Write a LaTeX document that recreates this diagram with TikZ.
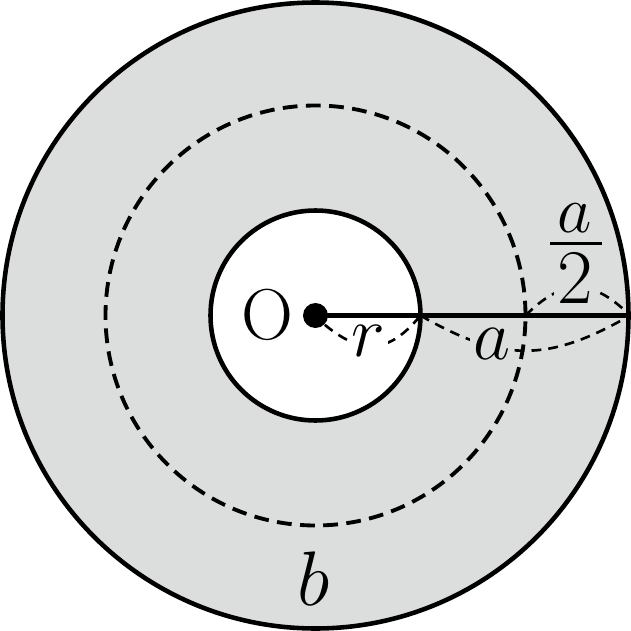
\RequirePackage{fix-cm}
\documentclass[tikz,border=0pt]{standalone}
\usepackage{amsmath}
\usepackage{tikz}

\definecolor{ringgray}{RGB}{220,221,221}

\begin{document}
\begin{tikzpicture}[
	lbl/.style={font=\fontsize{20.5}{24}\selectfont, inner sep=1pt},
	numlbl/.style={font=\fontsize{19}{23}\selectfont, inner sep=0.5pt},
	biglbl/.style={font=\fontsize{22}{26}\selectfont, inner sep=1pt},
	brace/.style={dash pattern=on 2.8pt off 2pt, line width=0.75pt}
	]

	\useasboundingbox (0,0) rectangle (6.31,6.31);

	\fill[ringgray, draw=black, line width=1.3pt] (3.155,3.155) circle (3.13);
	\draw[dash pattern=on 4.2pt off 2.4pt, line width=1.1pt] (3.155,3.155) circle (2.1);
	\draw[fill=white, line width=1.3pt] (3.155,3.155) circle (1.05);

	\node[shape=circle,fill=black,inner sep=0pt,minimum size=0.25cm] (o) at (3.155,3.155) {};
	\coordinate (rin)  at (4.205,3.155);
	\coordinate (rmid) at (5.255,3.155);
	\coordinate (rout) at (6.30,3.155);

	\draw[line width=1.3pt] (o.center) -- (rout);

	\path[brace] (o)    edge[bend right=45, looseness=1.3]  (rin);
	\path[brace] (rin)  edge[bend right=30, looseness=1.15] (rout);
	\path[brace] (rmid) edge[bend left=45, looseness=1.3]   (rout);

	\node[lbl] (olabel) at (2.675,3.165) {O};
	\node[lbl,fill=white] (rlabel) at (3.68,2.905) {$r$};
	\node[lbl,fill=ringgray] (alabel) at (4.92,2.875) {$a$};

	% a/2
	\node[numlbl] (halfnum) at (5.75,4.13) {$a$};
	\node[biglbl,fill=ringgray] (halfden) at (5.75,3.53) {2};
	\draw[line width=1.1pt] (5.50,3.875) -- (6.02,3.875);

	\node[biglbl] (blabel) at (3.14,0.525) {$b$};

\end{tikzpicture}
\end{document}
